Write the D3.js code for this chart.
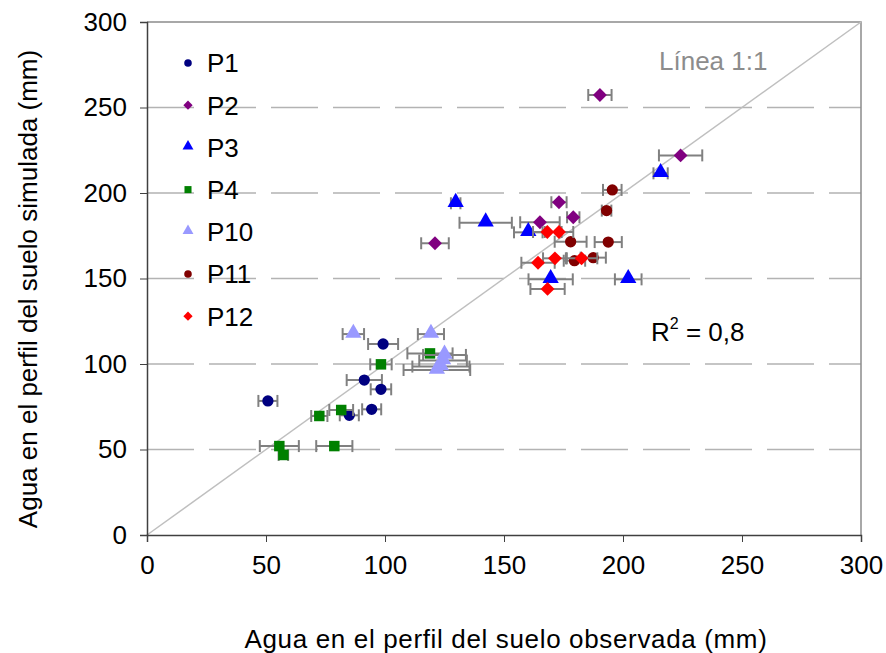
<!DOCTYPE html>
<html>
<head>
<meta charset="utf-8">
<script src="https://cdn.jsdelivr.net/npm/d3@7"></script>
<style>
  body { margin: 0; background: #fff; }
  svg text { font-family: "Liberation Sans", Arial, sans-serif; }
</style>
</head>
<body>
<svg id="chart" width="886" height="653"></svg>
<script>
// observed, simulated, error (observed +/-) for each plot
var p1  = [[50.8, 78.4, 4], [99.2, 111.7, 6.3], [91.3, 90.6, 7.4], [98.3, 85.2, 4.3], [94.4, 73.5, 4], [85, 70, 4]];
var p2  = [[190.3, 257.3, 4.9], [224.2, 222, 9.1], [121, 170.6, 5.8], [173.1, 194.6, 3.2], [165.1, 182.9, 8.3], [179.1, 185.8, 2.6]];
var p3  = [[129.7, 194, 2], [142.3, 182.6, 11], [160.2, 177, 6], [169.6, 149.5, 9.3], [202.2, 149.5, 5.6], [215.8, 211.5, 3]];
var p4  = [[55.6, 52, 8.2], [57.3, 46.8, 2], [78.7, 52, 7.6], [72.4, 69.6, 3.4], [81.6, 73.1, 5], [98.3, 99.8, 4.5], [118.9, 106.2, 9.5]];
var p10 = [[86.7, 117.5, 4.5], [119.3, 117.5, 5.5], [125, 105.3, 9], [124.4, 102, 10], [123.5, 98.5, 12], [121.8, 96.5, 14]];
var p11 = [[195.5, 201.8, 3.9], [193.1, 189.7, 2], [178, 171.5, 6.7], [193.8, 171.3, 5.7], [187.5, 162.2, 5.3], [179.6, 160.4, 4.5]];
var p12 = [[168.2, 177.2, 6], [173.1, 177.2, 6], [164.3, 159.2, 7], [171.4, 161.8, 5], [182.6, 161.8, 6.6], [168.3, 143.9, 7.2]];

var seriesNames = ["P1", "P2", "P3", "P4", "P10", "P11", "P12"];
var seriesData  = [p1, p2, p3, p4, p10, p11, p12];
var ticks = [0, 50, 100, 150, 200, 250, 300];

// marker styles (diamond = rotated square)
var styles = {
  P1:  {color: "#000080", shape: "circle"},
  P2:  {color: "#800080", shape: "diamond"},
  P3:  {color: "#0000FF", shape: "triangle"},
  P4:  {color: "#008000", shape: "square"},
  P10: {color: "#9999FF", shape: "triangle"},
  P11: {color: "#800000", shape: "circle"},
  P12: {color: "#FF0000", shape: "diamond"}
};
var symbolTypes = {circle: d3.symbolCircle, diamond: d3.symbolSquare, triangle: d3.symbolTriangle, square: d3.symbolSquare};
var symbolSizes = {circle: 100, diamond: 96, triangle: 115, square: 110};
var FS = 26;

var margin = {top: 22, right: 25, bottom: 118, left: 147},
    width = 886 - margin.left - margin.right,
    height = 653 - margin.top - margin.bottom;

var svg = d3.select("#chart");
var g = svg.append("g")
    .attr("transform", "translate(" + margin.left + "," + margin.top + ")");

var x = d3.scaleLinear().domain([0, 300]).range([0, width]);
var y = d3.scaleLinear().domain([0, 300]).range([height, 0]);

function markerTransform(shape, px, py) {
  if (shape === "diamond") return "translate(" + px + "," + py + ") rotate(45)";
  if (shape === "triangle") return "translate(" + px + "," + (py - 1) + ")";
  return "translate(" + px + "," + py + ")";
}

// dashed gridlines
g.selectAll(".grid")
  .data(ticks.filter(function(t){ return t > 0 && t < 300; }))
  .enter().append("line")
    .attr("x1", 0).attr("x2", width)
    .attr("y1", function(d){ return y(d); })
    .attr("y2", function(d){ return y(d); })
    .attr("stroke", "#b3b3b3")
    .attr("stroke-width", 1.5)
    .attr("stroke-dasharray", "47,15");

// plot frame (top, right)
g.append("path")
  .attr("d", "M0," + y(300) + "H" + width + "V" + height)
  .attr("fill", "none")
  .attr("stroke", "#8c8c8c")
  .attr("stroke-width", 1.5);

// 1:1 line
g.append("line")
  .attr("x1", x(0)).attr("y1", y(0))
  .attr("x2", x(300)).attr("y2", y(300))
  .attr("stroke", "#bfbfbf")
  .attr("stroke-width", 1.5);

// axes
var xAxis = g.append("g")
  .attr("transform", "translate(0," + height + ")")
  .call(d3.axisBottom(x).tickValues(ticks).tickSize(7).tickPadding(14));
var yAxis = g.append("g")
  .call(d3.axisLeft(y).tickValues(ticks).tickSize(7).tickPadding(13));

[xAxis, yAxis].forEach(function(a){
  a.select(".domain").attr("stroke", "#404040").attr("stroke-width", 1.5);
  a.selectAll(".tick line").attr("stroke", "#404040").attr("stroke-width", 1);
  a.selectAll(".tick text")
    .attr("font-family", "'Liberation Sans', Arial, sans-serif")
    .attr("font-size", FS)
    .attr("fill", "#000");
});
xAxis.selectAll(".tick text").attr("dy", "0.71em");

// series: error bars then markers
seriesData.forEach(function(data, i){
  var name = seriesNames[i];
  var st = styles[name];
  var eb = g.append("g").attr("class", "errbars");
  eb.selectAll("line.bar")
    .data(data).enter().append("line")
      .attr("x1", function(d){ return x(d[0] - d[2]); })
      .attr("x2", function(d){ return x(d[0] + d[2]); })
      .attr("y1", function(d){ return y(d[1]); })
      .attr("y2", function(d){ return y(d[1]); })
      .attr("stroke", "#808080").attr("stroke-width", 2);
  [-1, 1].forEach(function(s){
    eb.selectAll("line.cap" + s)
      .data(data).enter().append("line")
        .attr("x1", function(d){ return x(d[0] + s * d[2]); })
        .attr("x2", function(d){ return x(d[0] + s * d[2]); })
        .attr("y1", function(d){ return y(d[1]) - 6; })
        .attr("y2", function(d){ return y(d[1]) + 6; })
        .attr("stroke", "#808080").attr("stroke-width", 2);
  });

  g.selectAll(".pt-" + name)
    .data(data).enter().append("path")
      .attr("d", d3.symbol().type(symbolTypes[st.shape]).size(symbolSizes[st.shape]))
      .attr("transform", function(d){ return markerTransform(st.shape, x(d[0]), y(d[1])); })
      .attr("fill", st.color);
});

// legend
var legend = svg.append("g").attr("transform", "translate(188,63)");
seriesNames.forEach(function(name, i){
  var st = styles[name];
  var item = legend.append("g").attr("transform", "translate(0," + (i * 42.2) + ")");
  item.append("path")
    .attr("d", d3.symbol().type(symbolTypes[st.shape]).size(symbolSizes[st.shape] * 0.45))
    .attr("transform", markerTransform(st.shape, 0, 0))
    .attr("fill", st.color);
  item.append("text")
    .attr("x", 19).attr("y", 0).attr("dy", "0.36em")
    .attr("font-size", FS)
    .text(name);
});

// annotations
svg.append("text")
  .attr("x", 659).attr("y", 70)
  .attr("font-size", FS)
  .attr("fill", "#8c8c8c")
  .text("Línea 1:1");

var r2 = svg.append("text")
  .attr("x", 651).attr("y", 341)
  .attr("font-size", FS);
r2.append("tspan").text("R");
r2.append("tspan").attr("dy", -12).attr("font-size", 16).text("2");
r2.append("tspan").attr("dy", 12).text(" = 0,8");

// axis titles
svg.append("text")
  .attr("x", 506).attr("y", 648)
  .attr("text-anchor", "middle")
  .attr("font-size", FS)
  .attr("letter-spacing", 0.65)
  .text("Agua en el perfil del suelo observada (mm)");

svg.append("text")
  .attr("transform", "translate(37,289) rotate(-90)")
  .attr("text-anchor", "middle")
  .attr("font-size", FS)
  .text("Agua en el perfil del suelo simulada (mm)");
</script>
</body>
</html>
